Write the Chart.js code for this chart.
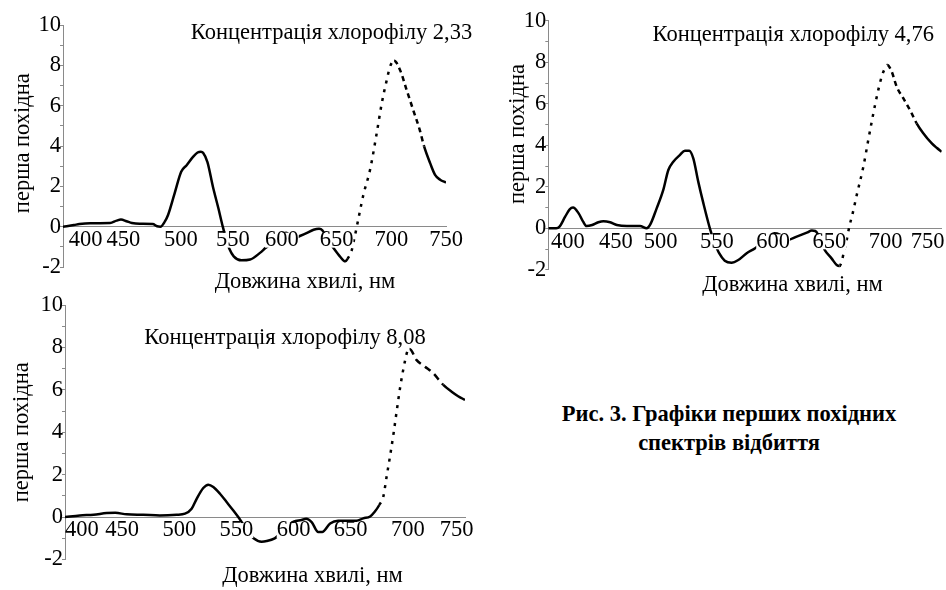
<!DOCTYPE html>
<html lang="uk"><head><meta charset="utf-8">
<title>Графіки перших похідних спектрів відбиття</title>
<script src="https://cdn.jsdelivr.net/npm/chart.js@4.4.1/dist/chart.umd.min.js"></script>
<style>
html,body{margin:0;padding:0;background:#fff}
body{position:relative;width:946px;height:590px;overflow:hidden}
canvas{position:absolute}
.t{position:absolute;font-family:"Liberation Serif","Times New Roman",serif;color:#000;white-space:nowrap;text-align:center;font-size:22.5px;line-height:22.5px}
.cap{font-weight:bold;font-size:22.5px;line-height:29px}
</style></head><body>
<canvas id="c1" width="480" height="295" style="left:0;top:0"></canvas>
<canvas id="c2" width="480" height="300" style="left:480px;top:0"></canvas>
<canvas id="c3" width="480" height="300" style="left:0;top:290px"></canvas>
<div class="t" style="left:131.5px;top:21.2px;width:400px">Концентрація хлорофілу 2,33</div>
<div class="t" style="left:593.3px;top:22.9px;width:400px">Концентрація хлорофілу 4,76</div>
<div class="t" style="left:85px;top:326.2px;width:400px">Концентрація хлорофілу 8,08</div>
<div class="t" style="left:105px;top:270px;width:400px">Довжина хвилі, нм</div>
<div class="t" style="left:592.5px;top:272.7px;width:400px">Довжина хвилі, нм</div>
<div class="t" style="left:112.5px;top:564.3px;width:400px">Довжина хвилі, нм</div>
<div class="t cap" style="left:529px;top:398.7px;width:400px">Рис. 3. Графіки перших похідних<br>спектрів відбиття</div>
<script>
// ---- data ----
const xTicks = [400, 450, 500, 550, 600, 650, 700, 750];
const yTicks = [-2, 0, 2, 4, 6, 8, 10];

// Концентрація хлорофілу 2,33
const wl1 = [400,410,415,425,443,449,453,458,463,470,482,486,489,493,496,502,508,513,519,523,526,528,532,537,542,546,549,552,556,563,571,580,585,592,598,604,608,612,617,623,629,634,637,641,646,653,658,660,664,666,668.5,671,674.5,680.6,686.7,691.3,695.9,698.9,702.6,708,714,720,726,730,735.5,740,744.6,750];
const d1 = [0,0.08,0.13,0.17,0.18,0.3,0.35,0.27,0.18,0.14,0.13,0.02,0,0.25,0.58,1.65,2.72,3.05,3.47,3.68,3.72,3.66,3.2,1.98,0.91,0,-0.6,-1.1,-1.47,-1.67,-1.63,-1.3,-1.06,-0.75,-0.45,-0.3,-0.45,-0.55,-0.45,-0.31,-0.15,-0.1,-0.18,-0.6,-0.97,-1.47,-1.72,-1.6,-1.14,-0.64,0,0.68,1.58,2.82,4.64,6.12,7.28,7.94,8.23,7.77,6.78,5.79,4.8,3.98,3.15,2.57,2.33,2.19];

// Концентрація хлорофілу 4,76
const wl2 = [400,407,410,415,419,422,427,431,434,439,444.5,449,455,461,470,481.6,487.5,490.5,496.4,502.3,506.8,511.2,517,521.6,525.4,529,533.4,538,544,548,552,557,563,569,576.5,584,590,596,601,606,613,621,630,634.5,637.5,640,643,646,652,656.6,659,661,663,665.5,667.8,670.8,674.4,680.3,684.7,689.2,693.6,696.6,699,701.6,705.5,710,715.8,721.8,727.7,733.6,741,745.5,750];
const d2 = [0,0,0.08,0.56,0.91,1.0,0.72,0.32,0.11,0.16,0.29,0.34,0.29,0.16,0.11,0.11,0,0.16,0.96,1.85,2.81,3.21,3.53,3.74,3.74,3.37,2.25,1.2,-0.05,-0.7,-1.2,-1.56,-1.66,-1.53,-1.2,-0.96,-0.7,-0.4,-0.24,-0.3,-0.56,-0.4,-0.21,-0.11,-0.13,-0.3,-0.7,-1.05,-1.45,-1.77,-1.82,-1.61,-1.13,-0.56,0.08,0.72,1.6,2.97,4.26,5.54,6.67,7.31,7.65,7.87,7.55,6.82,6.27,5.7,5.06,4.58,4.1,3.88,3.69];

// Концентрація хлорофілу 8,08
const wl3 = [400,413,425,436.5,444,454,468.5,483,497.7,505,510.8,515.2,521,525.4,529.8,535.6,541.4,547.3,551.6,556,561,565,572,576.5,583.5,587,592,596,600,607,611,616,621.5,625,632,639,649,655,661,667,671,675,678.5,681.4,684.5,687.5,690.5,693.5,696.5,699.5,701.5,707.7,715,722.3,731,738.3,744,750];
const d3 = [0,0.08,0.11,0.19,0.2,0.13,0.11,0.08,0.11,0.16,0.39,0.86,1.37,1.53,1.42,1.1,0.71,0.31,0,-0.35,-0.75,-1.0,-1.16,-1.13,-1.0,-0.85,-0.6,-0.38,-0.22,-0.14,-0.08,-0.25,-0.7,-0.7,-0.3,-0.17,-0.17,-0.17,-0.06,0.03,0.25,0.57,0.96,1.9,2.9,3.95,5.1,6.2,7.1,7.8,7.93,7.4,7.09,6.78,6.23,5.91,5.7,5.52];

// ---- drawing ----
const FONT = 'Liberation Serif';
const AX = '#8a8a8a';
const COVERED = [550, 600, 650]; // labels whose white box hides the curve, as in the original

function build(id, wl, vals, o) {
  const font = {family: FONT, size: 22.5};
  const shiftLabel = v => {
    const n = o.shift[v] || 0, s = String(v);
    return n > 0 ? ' '.repeat(n) + s : (n < 0 ? s + ' '.repeat(-n) : s);
  };
  const ytitle = ' '.repeat(o.ytShift || 0) + 'перша похідна';
  return new Chart(document.getElementById(id), {
    type: 'line',
    data: {datasets: [{
      data: wl.map((x, i) => ({x: x, y: vals[i]})),
      borderColor: '#000', borderWidth: 2.5, pointRadius: 0,
      cubicInterpolationMode: 'monotone', borderCapStyle: 'butt', borderJoinStyle: 'round', fill: false,
      segment: {
        borderDash: c => {
          const a = c.p0.parsed.x, b = c.p1.parsed.x;
          if (a >= o.dotFrom && b <= o.peak) return o.dot;
          if (a >= o.peak && b <= o.dashTo) return o.dash;
          return undefined;
        }
      }
    }]},
    options: {
      responsive: false, animation: false, devicePixelRatio: 1,
      layout: {padding: o.pad},
      plugins: {legend: {display: false}, tooltip: {enabled: false}},
      scales: {
        x: {
          type: 'linear', position: {y: 0}, min: 400, max: 750,
          grid: {display: false, drawTicks: false},
          border: {display: true, color: AX, width: 1},
          ticks: {display: false},
          afterFit: s => { s.paddingLeft = 0; s.paddingRight = 0; }
        },
        xl: {
          type: 'linear', position: {y: 0}, min: 400, max: 750,
          grid: {display: false, drawTicks: false},
          border: {display: false},
          afterBuildTicks: s => { s.ticks = xTicks.map(v => ({value: v})); },
          ticks: {
            z: 1, autoSkip: false, maxRotation: 0, padding: 0, color: '#000', font: font,
            showLabelBackdrop: true,
            backdropColor: c => (c.tick && COVERED.includes(c.tick.value)) ? '#fff' : 'rgba(0,0,0,0)',
            backdropPadding: {top: -6, bottom: -6, left: 0, right: 0},
            callback: v => shiftLabel(v)
          },
          afterFit: s => { s.paddingLeft = 0; s.paddingRight = 0; }
        },
        y: {
          type: 'linear', position: 'left', min: -2, max: 10,
          afterFit: s => { s.width = o.yw; },
          border: {color: AX, width: 1},
          grid: {display: true, drawOnChartArea: false, drawTicks: true, tickLength: 3, color: AX},
          ticks: {stepSize: 1, autoSkip: false, padding: -1, color: '#000', font: font,
                  callback: v => yTicks.includes(v) ? String(v) : ''},
          title: {display: true, text: ytitle, color: '#000', font: font, padding: 0}
        }
      }
    }
  });
}

build('c1', wl1, d1, {pad: {left: 9.5, top: 25, right: 34, bottom: 28}, yw: 53.5,
  dotFrom: 659, peak: 702.6, dashTo: 730, dot: [3, 6], dash: [5, 4],
  shift: {400: 8, 450: 2, 500: 3, 550: 2}, ytShift: 1});
build('c2', wl2, d2, {pad: {left: 24.5, top: 20.8, right: 18.3, bottom: 30.2}, yw: 43.8,
  dotFrom: 658, peak: 701.6, dashTo: 727.7, dot: [3, 6], dash: [5, 4],
  shift: {400: 7, 450: 4, 750: -5}, ytShift: 4});
build('c3', wl3, d3, {pad: {left: 8.5, top: 15, right: 15, bottom: 30.5}, yw: 56.5,
  dotFrom: 674, peak: 701.5, dashTo: 731, dot: [3, 6], dash: [7, 5],
  shift: {400: 6, 750: -3}, ytShift: 0});
</script>
</body></html>
